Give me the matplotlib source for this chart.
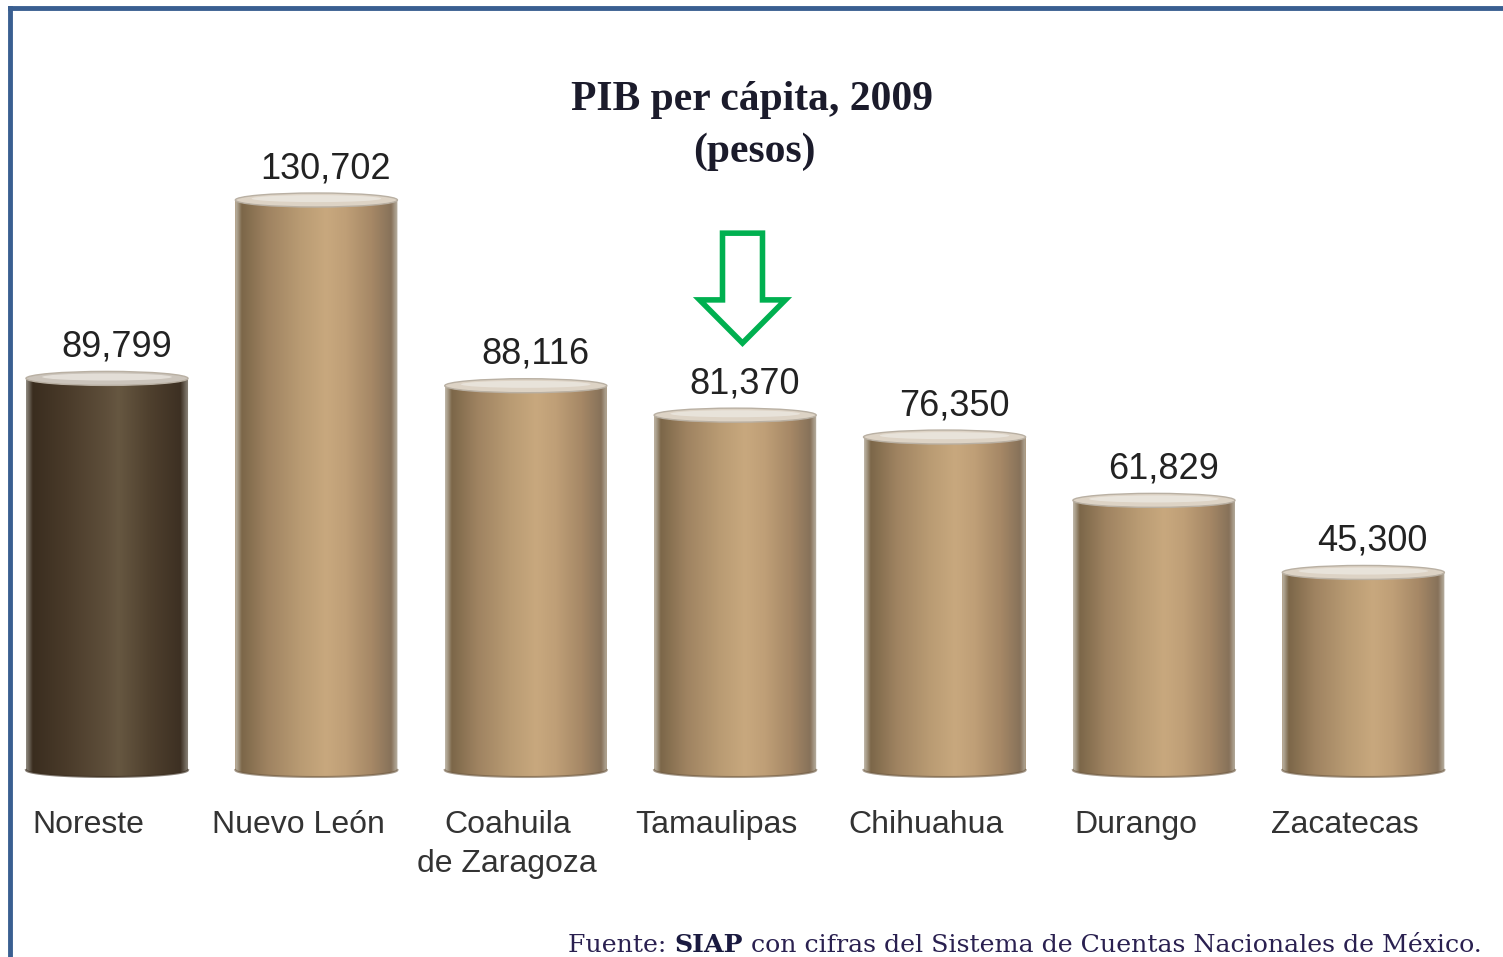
import numpy as np
import matplotlib.pyplot as plt
from matplotlib.patches import Ellipse, Polygon
from matplotlib.lines import Line2D

# datos
categorias = ['Noreste', 'Nuevo León', 'Coahuila\nde Zaragoza', 'Tamaulipas',
              'Chihuahua', 'Durango', 'Zacatecas']
pib = [89799, 130702, 88116, 81370, 76350, 61829, 45300]
etiquetas = ['89,799', '130,702', '88,116', '81,370', '76,350', '61,829', '45,300']

# colores del cilindro (posicion, color)
stops_claro = [(0.00, '#bdb5a6'), (0.04, '#7c6749'), (0.20, '#9f8361'),
               (0.40, '#b99b73'), (0.56, '#c8a87e'), (0.68, '#bf9f77'),
               (0.84, '#a68866'), (0.96, '#87725a'), (1.00, '#b8b0a2')]
stops_oscuro = [(0.00, '#8e887e'), (0.04, '#3a2d1f'), (0.25, '#4a3b2a'),
                (0.50, '#5f4f3b'), (0.57, '#665741'), (0.76, '#4f402e'),
                (0.95, '#3d3023'), (1.00, '#8e887e')]

def hex2rgb(h):
    h = h.lstrip('#')
    return [int(h[i:i+2], 16) / 255 for i in (0, 2, 4)]

def gradiente(stops, n=200):
    pos = [s[0] for s in stops]
    cols = np.array([hex2rgb(s[1]) for s in stops])
    t = np.linspace(0, 1, n)
    g = np.stack([np.interp(t, pos, cols[:, c]) for c in range(3)], axis=-1)
    return g[np.newaxis, :, :]

k = 0.004361  # pixeles por peso
fig = plt.figure(figsize=(15.03, 9.57), dpi=100)
fig.patch.set_facecolor('white')
ax = fig.add_axes([0, 0, 1, 1])
ax.set_xlim(-0.511, 6.667)
ax.set_ylim(-(957 - 770) / k, 770 / k)
ax.set_axis_off()

x = np.arange(len(pib))
w = 0.774
cap = 14 / k
bars = ax.bar(x, pib, width=w, color='#a88a64', zorder=2)

for i, (b, v) in enumerate(zip(bars, pib)):
    stops = stops_oscuro if i == 0 else stops_claro
    x0 = x[i] - w / 2
    x1 = x[i] + w / 2
    # silueta: rectangulo con fondo redondeado
    th = np.linspace(np.pi, 2 * np.pi, 40)
    arco = np.column_stack([x[i] + w / 2 * np.cos(th), cap / 2 * np.sin(th)])
    pts = np.vstack([[[x0, v]], arco, [[x1, v]]])
    sil = Polygon(pts, closed=True, facecolor='none', edgecolor='none')
    ax.add_patch(sil)
    im = ax.imshow(gradiente(stops), extent=[x0, x1, -cap, v], aspect='auto',
                   zorder=3, interpolation='bilinear')
    im.set_clip_path(sil)
    # borde inferior oscuro
    ax.plot(arco[:, 0], arco[:, 1], color='#3a2d1f' if i == 0 else '#6e5a42',
            lw=1.5, alpha=0.6, zorder=4)
    # tapa superior
    tapa_col = '#cbc4bb' if i == 0 else '#ddd3c5'
    ax.add_patch(Ellipse((x[i], v), w, cap, facecolor=tapa_col,
                         edgecolor='#b9b0a3', lw=1, zorder=5))
    ax.add_patch(Ellipse((x[i], v + cap * 0.1), w * 0.8, cap * 0.5,
                         facecolor='#eeeae4', edgecolor='none', alpha=0.7, zorder=6))
    # valor
    ax.annotate(etiquetas[i], (x[i] + 0.045, v), xytext=(0, 10),
                textcoords='offset points', ha='center', va='bottom',
                fontsize=26, family='Liberation Sans', color='#222222', zorder=7)
    # categoria
    ax.text(x[i] - 0.088, -(810 - 770) / k, categorias[i], ha='center', va='top',
            fontsize=23, family='Liberation Sans', color='#333333',
            linespacing=1.4, zorder=7)

# flecha verde sobre Tamaulipas
xc = x[3] + 0.035
ys = 123100
yh = 107800
yt = 97900
flecha = [(xc - 0.0955, ys), (xc + 0.0955, ys), (xc + 0.0955, yh), (xc + 0.205, yh),
          (xc, yt), (xc - 0.205, yh), (xc - 0.0955, yh)]
ax.add_patch(Polygon(flecha, closed=True, facecolor='white', edgecolor='#00b050',
                     lw=4, joinstyle='miter', zorder=8))

# titulo
fig.text(752 / 1503, 1 - 100 / 957, 'PIB per cápita, 2009', ha='center', va='center',
         fontsize=30, family='Liberation Serif', weight='bold', color='#1b1b2b')
fig.text(754 / 1503, 1 - 152 / 957, '(pesos)', ha='center', va='center',
         fontsize=30, family='Liberation Serif', weight='bold', color='#1b1b2b')

# fuente
f1 = fig.text(568 / 1503, 1 - 957 / 957, 'Fuente: ', ha='left', va='bottom',
              fontsize=18.2, family='DejaVu Serif', color='#2a2050')
f2 = fig.text(0, 0, 'SIAP', ha='left', va='bottom', fontsize=18.2,
              family='DejaVu Serif', weight='bold', color='#1a1a40')
f3 = fig.text(0, 0, ' con cifras del Sistema de Cuentas Nacionales de México.',
              ha='left', va='bottom', fontsize=18.2, family='DejaVu Serif',
              color='#2a2050')
fig.canvas.draw()
r = fig.canvas.get_renderer()
bb = f1.get_window_extent(r)
f2.set_position((bb.x1 / fig.bbox.width, bb.y0 / fig.bbox.height))
bb = f2.get_window_extent(r)
f3.set_position((bb.x1 / fig.bbox.width, bb.y0 / fig.bbox.height))

# marco azul
azul = '#3a5f91'
fig.add_artist(Line2D([10 / 1503, 1], [1 - 8 / 957, 1 - 8 / 957],
                      transform=fig.transFigure, color=azul, lw=3.5))
fig.add_artist(Line2D([10 / 1503, 10 / 1503], [0, 1 - 8 / 957],
                      transform=fig.transFigure, color=azul, lw=3.5))

fig.savefig('out.png', dpi=100)
